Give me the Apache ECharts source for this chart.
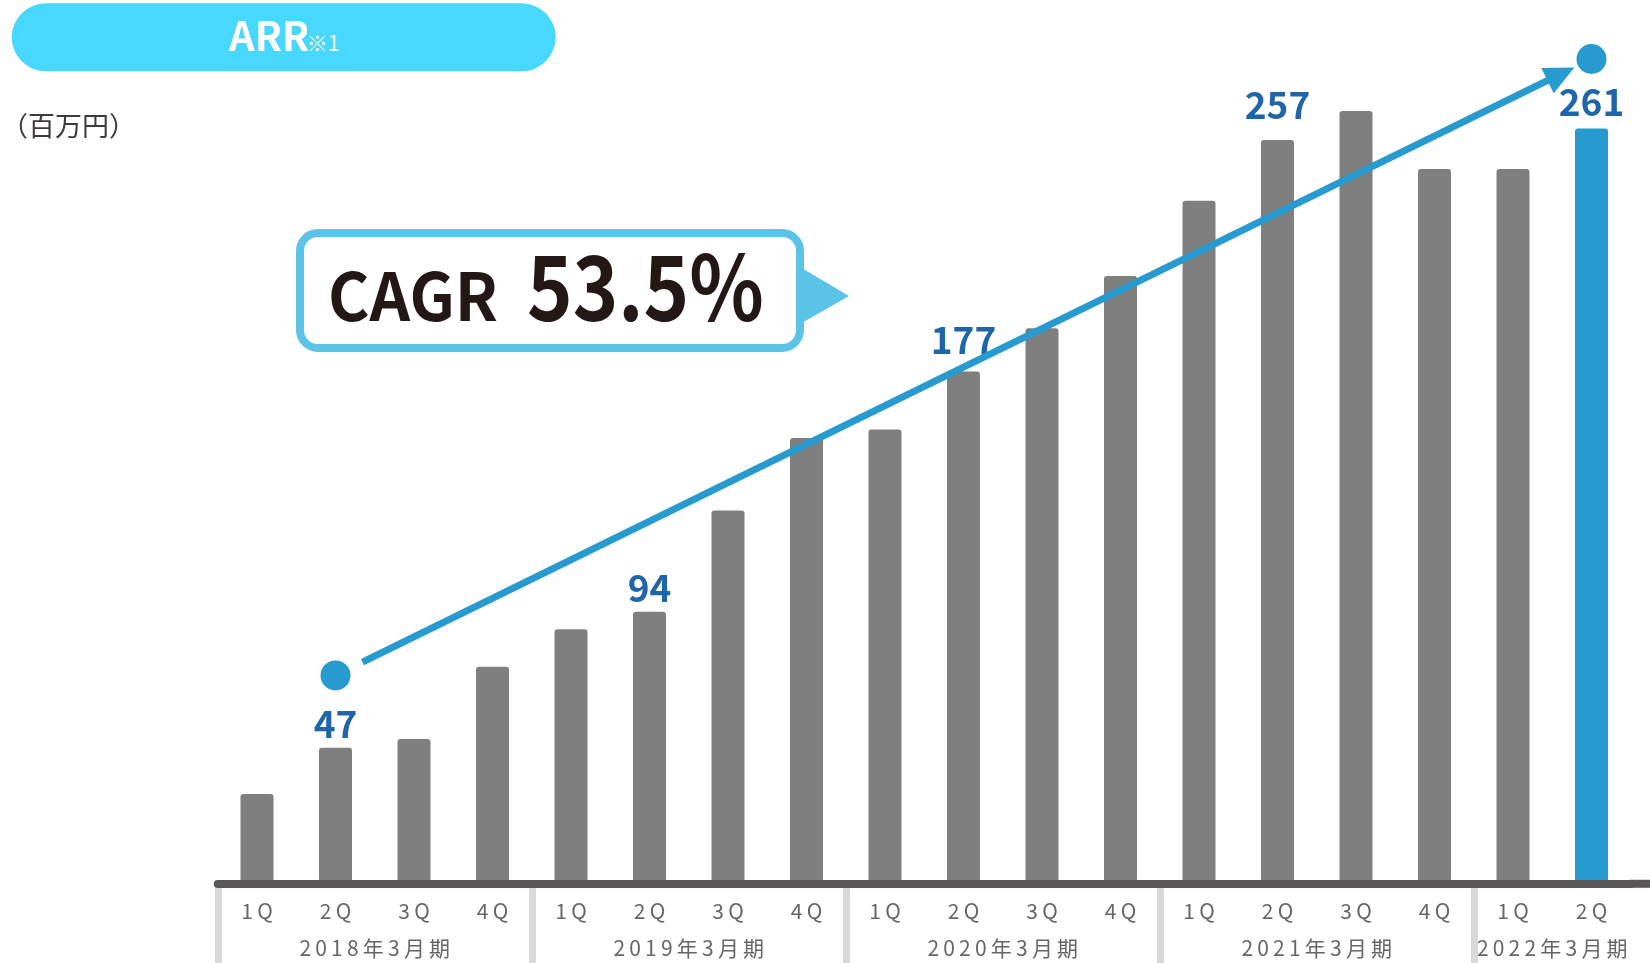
<!DOCTYPE html>
<html>
<head>
<meta charset="utf-8">
<script src="https://cdn.jsdelivr.net/npm/echarts@6/dist/echarts.min.js"></script>
<style>
html, body { margin: 0; padding: 0; background: #fff; }
#main { width: 1650px; height: 963px; }
</style>
</head>
<body>
<div id="main"></div>
<script>
// ARR 四半期推移（百万円）
var quarters = ['1Q', '2Q', '3Q', '4Q', '1Q', '2Q', '3Q', '4Q', '1Q', '2Q', '3Q', '4Q', '1Q', '2Q', '3Q', '4Q', '1Q', '2Q'];
var years = ['2018年3月期', '2019年3月期', '2020年3月期', '2021年3月期', '2022年3月期'];
var arrValues = [31, 47, 50, 75, 88, 94, 129, 154, 157, 177, 192, 210, 236, 257, 267, 247, 247, 261];
var labelIdx = [1, 5, 9, 13, 17];
var dotIdx = [1, 17];
var dotValues = [72, 285];

var FONT = '"Noto Sans CJK JP", "Noto Sans", sans-serif';
var BLUE = '#279acf';
var spaced = function (s) { return s.split('').join('\u2009'); };

// 年度ラベル用の半区間スロット（0..36）
var groups = [];
quarters.forEach(function (q, i) {
    if (q === '1Q') groups.push({ start: i, count: 0 });
    groups[groups.length - 1].count++;
});
var slots = [];
for (var k = 0; k <= quarters.length * 2; k++) slots.push('');
var sepSlots = {};
groups.forEach(function (g, gi) {
    slots[g.start * 2 + g.count] = years[gi];
    sepSlots[g.start * 2] = true;
});

// ラベルと棒の間隔（個別調整）
var labelGap = { 1: 5, 5: 5, 9: 13, 13: 17, 17: 8 };

var barData = arrValues.map(function (v, i) {
    var item = { value: v };
    if (i === arrValues.length - 1) item.itemStyle = { color: BLUE };
    if (labelIdx.indexOf(i) >= 0) {
        item.label = { show: true, distance: labelGap[i] };
    }
    return item;
});

var chart = echarts.init(document.getElementById('main'));
chart.setOption({
    animation: false,
    grid: { left: 217.75, right: 19.25, top: 15.6, bottom: 79.2, outerBoundsMode: 'none' },
    xAxis: [{
        type: 'category',
        data: quarters,
        z: 5,
        axisLine: { lineStyle: { color: '#595757', width: 8 } },
        axisTick: { show: false },
        axisLabel: {
            color: '#666', fontSize: 21, fontFamily: FONT, margin: 17,
            formatter: function (v) { return spaced(v); }
        }
    }, {
        type: 'category',
        data: slots,
        boundaryGap: false,
        position: 'bottom',
        z: 1,
        axisLine: { show: false },
        axisTick: {
            show: true, length: 82,
            interval: function (idx) { return !!sepSlots[idx]; },
            lineStyle: { color: '#d9d9d9', width: 7 }
        },
        axisLabel: {
            color: '#666', fontSize: 21, fontFamily: FONT, margin: 54,
            interval: function (idx, val) { return val !== ''; },
            formatter: function (v) { return spaced(v); }
        }
    }],
    yAxis: { type: 'value', min: 0, max: 300, show: false, splitLine: { show: false } },
    series: [{
        type: 'bar',
        data: barData,
        barWidth: 33,
        itemStyle: { color: '#7f7f7f', borderRadius: [3, 3, 0, 0] },
        label: {
            show: false, position: 'top', formatter: '{c}',
            color: '#1f65a8', fontSize: 37, fontWeight: 'bold', fontFamily: FONT
        }
    }, {
        type: 'scatter',
        data: dotIdx.map(function (d, i) { return [d, dotValues[i]]; }),
        symbolSize: 30,
        itemStyle: { color: BLUE, opacity: 1 },
        z: 6
    }]
});

// 矢印・注記
var p1 = chart.convertToPixel({ seriesIndex: 1 }, [dotIdx[0], dotValues[0]]);
var p2 = chart.convertToPixel({ seriesIndex: 1 }, [dotIdx[1], dotValues[1]]);
var dx = p2[0] - p1[0], dy = p2[1] - p1[1];
var len = Math.sqrt(dx * dx + dy * dy);
var ux = dx / len, uy = dy / len, nx = -uy, ny = ux;
var start = [p1[0] + ux * 30, p1[1] + uy * 30];
var tip = [p2[0] - ux * 19, p2[1] - uy * 19];
var base = [tip[0] - ux * 30, tip[1] - uy * 30];

var first = chart.convertToPixel({ xAxisIndex: 0 }, 0);
var last = chart.convertToPixel({ xAxisIndex: 0 }, quarters.length - 1);
var band = (last - first) / (quarters.length - 1);
var axisRight = last + band / 2;
var y0 = chart.convertToPixel({ yAxisIndex: 0 }, 0);

chart.setOption({
    graphic: [
        { type: 'rect', shape: { x: 11.7, y: 3.3, width: 544, height: 68, r: 34 }, style: { fill: '#49d8fd' } },
        { type: 'text', style: { text: 'ARR', x: 229, y: 36, fill: '#fff', font: 'bold 40px ' + FONT, align: 'left', textAlign: 'left', verticalAlign: 'middle', textVerticalAlign: 'middle' } },
        { type: 'text', style: { text: '※1', x: 307, y: 43, fill: '#fff', font: '21px ' + FONT, align: 'left', textAlign: 'left', verticalAlign: 'middle', textVerticalAlign: 'middle' } },
        { type: 'text', style: { text: '（百万円）', x: 1, y: 126, fill: '#3e3a39', font: '27px ' + FONT, align: 'left', textAlign: 'left', verticalAlign: 'middle', textVerticalAlign: 'middle' } },

        { type: 'polygon', shape: { points: [[800, 267], [849, 296], [800, 324]] }, style: { fill: '#5bc4e6' } },
        { type: 'rect', shape: { x: 300, y: 233, width: 500, height: 115, r: 18 }, style: { fill: '#fff', stroke: '#5bc4e6', lineWidth: 8 } },
        { type: 'text', x: 328, y: 296, scaleX: 0.96, style: { text: 'CAGR', x: 0, y: 0, fill: '#231815', font: 'bold 66px ' + FONT, align: 'left', textAlign: 'left', verticalAlign: 'middle', textVerticalAlign: 'middle' } },
        { type: 'text', x: 527, y: 287, scaleX: 0.86, style: { text: '53.5%', x: 0, y: 0, fill: '#231815', font: 'bold 90px ' + FONT, align: 'left', textAlign: 'left', verticalAlign: 'middle', textVerticalAlign: 'middle' } },

        { type: 'line', z: 10, shape: { x1: start[0], y1: start[1], x2: base[0] + ux * 2, y2: base[1] + uy * 2 }, style: { stroke: BLUE, lineWidth: 7 } },
        { type: 'polygon', z: 10, shape: { points: [tip, [base[0] + nx * 14, base[1] + ny * 14], [base[0] - nx * 14, base[1] - ny * 14]] }, style: { fill: BLUE } },

        { type: 'rect', z: 10, shape: { x: axisRight - 1, y: y0 - 4, width: 1650 - axisRight + 1, height: 8 }, style: { fill: '#595757' } }
    ]
});
</script>
</body>
</html>
